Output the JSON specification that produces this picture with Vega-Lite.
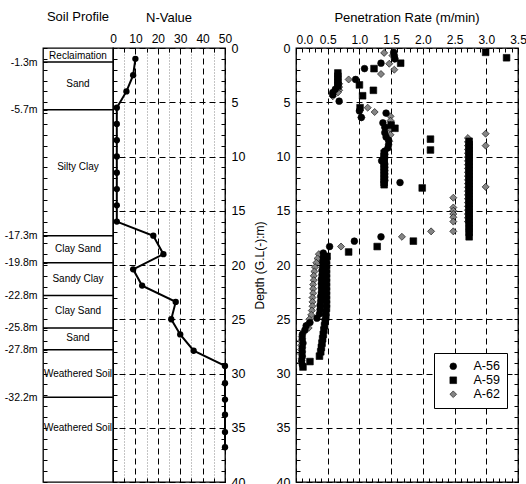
{
  "$schema": "https://vega.github.io/schema/vega-lite/v6.json",
  "padding": {"left": 3, "top": 9, "right": 0, "bottom": 0},
  "config": {
    "font": "Liberation Sans",
    "view": {"stroke": "black", "strokeWidth": 1.3},
    "axis": {"domain": false, "labelColor": "black", "titleColor": "black", "tickColor": "black", "titleFontWeight": "normal", "tickWidth": 1, "labelOverlap": false},
    "title": {"fontSize": 13, "fontWeight": "normal", "color": "black", "anchor": "middle", "frame": "group"}
  },
  "datasets": {
    "soil_bounds": [{"d": 1.3}, {"d": 5.7}, {"d": 17.3}, {"d": 19.8}, {"d": 22.8}, {"d": 25.8}, {"d": 27.8}, {"d": 32.2}],
    "soil_layers": [
      {"name": "Reclaimation", "m": 0.75}, {"name": "Sand", "m": 3.3}, {"name": "Silty Clay", "m": 11.0},
      {"name": "Clay Sand", "m": 18.5}, {"name": "Sandy Clay", "m": 21.3}, {"name": "Clay Sand", "m": 24.2},
      {"name": "Sand", "m": 26.7}, {"name": "Weathered Soil", "m": 30.0}, {"name": "Weathered Soil", "m": 35.0}
    ],
    "nvalue": [
      {"n": 10, "d": 1.0}, {"n": 9, "d": 2.5}, {"n": 6, "d": 4.0}, {"n": 1.7, "d": 5.5}, {"n": 1.7, "d": 7.0},
      {"n": 1.7, "d": 8.5}, {"n": 1.7, "d": 10.0}, {"n": 1.7, "d": 11.5}, {"n": 1.7, "d": 13.0}, {"n": 1.7, "d": 14.5},
      {"n": 1.7, "d": 16.0}, {"n": 18, "d": 17.3}, {"n": 22.5, "d": 19.0}, {"n": 9, "d": 20.4}, {"n": 13, "d": 21.9},
      {"n": 28, "d": 23.4}, {"n": 26, "d": 25.0}, {"n": 30, "d": 26.4}, {"n": 36, "d": 27.9}, {"n": 50, "d": 29.3},
      {"n": 50, "d": 30.9}, {"n": 50, "d": 32.4}, {"n": 50, "d": 33.8}, {"n": 50, "d": 35.4}, {"n": 50, "d": 36.8}
    ],
    "pen": [
      {"s": "A-56", "d": 0.4, "r": 1.54}, {"s": "A-56", "d": 0.7, "r": 1.55}, {"s": "A-56", "d": 1.0, "r": 1.56},
      {"s": "A-56", "d": 1.4, "r": 1.34}, {"s": "A-56", "d": 1.9, "r": 1.08}, {"s": "A-56", "d": 2.9, "r": 0.94},
      {"s": "A-56", "d": 3.8, "r": 0.62}, {"s": "A-56", "d": 4.1, "r": 0.58}, {"s": "A-56", "d": 4.3, "r": 0.58},
      {"s": "A-56", "d": 4.9, "r": 0.68}, {"s": "A-56", "d": 5.8, "r": 1.0}, {"s": "A-56", "d": 6.0, "r": 1.42},
      {"s": "A-56", "d": 6.4, "r": 1.03}, {"s": "A-56", "d": 6.9, "r": 1.37}, {"s": "A-56", "d": 7.3, "r": 1.4},
      {"s": "A-56", "d": 7.8, "r": 1.4}, {"s": "A-56", "d": 8.2, "r": 1.42}, {"s": "A-56", "d": 8.5, "r": 1.46},
      {"s": "A-56", "d": 8.9, "r": 1.46}, {"s": "A-56", "d": 9.2, "r": 1.45}, {"s": "A-56", "d": 9.5, "r": 1.4},
      {"s": "A-56", "d": 9.8, "r": 1.4}, {"s": "A-56", "d": 10.1, "r": 1.4}, {"s": "A-56", "d": 10.4, "r": 1.35},
      {"s": "A-56", "d": 10.7, "r": 1.4}, {"s": "A-56", "d": 11.0, "r": 1.4}, {"s": "A-56", "d": 11.3, "r": 1.4},
      {"s": "A-56", "d": 11.6, "r": 1.4}, {"s": "A-56", "d": 11.9, "r": 1.4}, {"s": "A-56", "d": 12.2, "r": 1.4},
      {"s": "A-56", "d": 12.4, "r": 1.64}, {"s": "A-56", "d": 17.4, "r": 1.34}, {"s": "A-56", "d": 17.8, "r": 0.92},
      {"s": "A-56", "d": 18.3, "r": 0.53}, {"s": "A-56", "d": 18.9, "r": 0.43}, {"s": "A-56", "d": 19.3, "r": 0.43},
      {"s": "A-56", "d": 19.7, "r": 0.42}, {"s": "A-56", "d": 20.1, "r": 0.42}, {"s": "A-56", "d": 20.5, "r": 0.41},
      {"s": "A-56", "d": 20.9, "r": 0.41}, {"s": "A-56", "d": 21.3, "r": 0.4}, {"s": "A-56", "d": 21.7, "r": 0.4},
      {"s": "A-56", "d": 22.1, "r": 0.4}, {"s": "A-56", "d": 22.5, "r": 0.4}, {"s": "A-56", "d": 22.9, "r": 0.39},
      {"s": "A-56", "d": 23.3, "r": 0.39}, {"s": "A-56", "d": 23.7, "r": 0.38}, {"s": "A-56", "d": 24.1, "r": 0.38},
      {"s": "A-56", "d": 24.5, "r": 0.37}, {"s": "A-56", "d": 24.9, "r": 0.33}, {"s": "A-56", "d": 25.3, "r": 0.22},
      {"s": "A-56", "d": 25.6, "r": 0.16}, {"s": "A-56", "d": 26.0, "r": 0.14}, {"s": "A-56", "d": 26.4, "r": 0.1},
      {"s": "A-56", "d": 26.8, "r": 0.1}, {"s": "A-56", "d": 27.2, "r": 0.11}, {"s": "A-56", "d": 27.6, "r": 0.1},
      {"s": "A-56", "d": 28.0, "r": 0.1}, {"s": "A-56", "d": 28.4, "r": 0.1}, {"s": "A-56", "d": 28.8, "r": 0.09},
      {"s": "A-56", "d": 29.2, "r": 0.1},
      {"s": "A-59", "d": 0.4, "r": 2.99}, {"s": "A-59", "d": 0.9, "r": 3.32}, {"s": "A-59", "d": 1.4, "r": 1.65},
      {"s": "A-59", "d": 1.9, "r": 1.23}, {"s": "A-59", "d": 2.3, "r": 0.66}, {"s": "A-59", "d": 2.6, "r": 0.66},
      {"s": "A-59", "d": 2.9, "r": 0.66}, {"s": "A-59", "d": 3.2, "r": 0.66}, {"s": "A-59", "d": 3.4, "r": 1.0},
      {"s": "A-59", "d": 3.5, "r": 0.66}, {"s": "A-59", "d": 3.9, "r": 1.22}, {"s": "A-59", "d": 4.4, "r": 1.05},
      {"s": "A-59", "d": 5.5, "r": 1.01}, {"s": "A-59", "d": 7.1, "r": 1.5}, {"s": "A-59", "d": 7.4, "r": 1.56},
      {"s": "A-59", "d": 8.4, "r": 2.12}, {"s": "A-59", "d": 9.4, "r": 2.12},
      {"s": "A-59", "d": 9.7, "r": 1.39}, {"s": "A-59", "d": 10.0, "r": 1.39}, {"s": "A-59", "d": 10.3, "r": 1.39},
      {"s": "A-59", "d": 10.6, "r": 1.39}, {"s": "A-59", "d": 10.9, "r": 1.39}, {"s": "A-59", "d": 11.2, "r": 1.39},
      {"s": "A-59", "d": 11.5, "r": 1.39}, {"s": "A-59", "d": 11.8, "r": 1.39}, {"s": "A-59", "d": 12.1, "r": 1.39},
      {"s": "A-59", "d": 12.4, "r": 1.39}, {"s": "A-59", "d": 12.6, "r": 1.39}, {"s": "A-59", "d": 12.9, "r": 1.99},
      {"s": "A-59", "d": 8.6, "r": 2.73}, {"s": "A-59", "d": 8.9, "r": 2.73}, {"s": "A-59", "d": 9.2, "r": 2.73},
      {"s": "A-59", "d": 9.5, "r": 2.73}, {"s": "A-59", "d": 9.8, "r": 2.73}, {"s": "A-59", "d": 10.1, "r": 2.73},
      {"s": "A-59", "d": 10.4, "r": 2.73}, {"s": "A-59", "d": 10.7, "r": 2.73}, {"s": "A-59", "d": 11.0, "r": 2.73},
      {"s": "A-59", "d": 11.3, "r": 2.73}, {"s": "A-59", "d": 11.6, "r": 2.73}, {"s": "A-59", "d": 11.9, "r": 2.73},
      {"s": "A-59", "d": 12.2, "r": 2.73}, {"s": "A-59", "d": 12.5, "r": 2.73}, {"s": "A-59", "d": 12.8, "r": 2.73},
      {"s": "A-59", "d": 13.1, "r": 2.73}, {"s": "A-59", "d": 13.4, "r": 2.73}, {"s": "A-59", "d": 13.7, "r": 2.73},
      {"s": "A-59", "d": 14.0, "r": 2.73}, {"s": "A-59", "d": 14.3, "r": 2.73}, {"s": "A-59", "d": 14.6, "r": 2.73},
      {"s": "A-59", "d": 14.9, "r": 2.73}, {"s": "A-59", "d": 15.2, "r": 2.73}, {"s": "A-59", "d": 15.5, "r": 2.73},
      {"s": "A-59", "d": 15.8, "r": 2.73}, {"s": "A-59", "d": 16.1, "r": 2.73}, {"s": "A-59", "d": 16.4, "r": 2.73},
      {"s": "A-59", "d": 16.7, "r": 2.73}, {"s": "A-59", "d": 17.0, "r": 2.73}, {"s": "A-59", "d": 17.4, "r": 2.73},
      {"s": "A-59", "d": 17.8, "r": 1.85}, {"s": "A-59", "d": 18.3, "r": 1.28}, {"s": "A-59", "d": 18.8, "r": 0.83},
      {"s": "A-59", "d": 19.2, "r": 0.49}, {"s": "A-59", "d": 19.6, "r": 0.48}, {"s": "A-59", "d": 20.0, "r": 0.48},
      {"s": "A-59", "d": 20.4, "r": 0.48}, {"s": "A-59", "d": 20.8, "r": 0.48}, {"s": "A-59", "d": 21.2, "r": 0.48},
      {"s": "A-59", "d": 21.6, "r": 0.48}, {"s": "A-59", "d": 22.0, "r": 0.48}, {"s": "A-59", "d": 22.4, "r": 0.48},
      {"s": "A-59", "d": 22.8, "r": 0.48}, {"s": "A-59", "d": 23.2, "r": 0.48}, {"s": "A-59", "d": 23.6, "r": 0.48},
      {"s": "A-59", "d": 24.0, "r": 0.48}, {"s": "A-59", "d": 24.4, "r": 0.47}, {"s": "A-59", "d": 24.8, "r": 0.47},
      {"s": "A-59", "d": 25.2, "r": 0.46}, {"s": "A-59", "d": 25.6, "r": 0.45}, {"s": "A-59", "d": 26.0, "r": 0.44},
      {"s": "A-59", "d": 26.4, "r": 0.43}, {"s": "A-59", "d": 26.8, "r": 0.42}, {"s": "A-59", "d": 27.2, "r": 0.41},
      {"s": "A-59", "d": 27.6, "r": 0.4}, {"s": "A-59", "d": 28.0, "r": 0.39}, {"s": "A-59", "d": 28.4, "r": 0.37},
      {"s": "A-59", "d": 28.9, "r": 0.22}, {"s": "A-59", "d": 29.4, "r": 0.11},
      {"s": "A-62", "d": 0.45, "r": 1.39}, {"s": "A-62", "d": 0.7, "r": 1.52}, {"s": "A-62", "d": 1.0, "r": 1.55},
      {"s": "A-62", "d": 1.45, "r": 1.47}, {"s": "A-62", "d": 2.0, "r": 1.55}, {"s": "A-62", "d": 2.4, "r": 1.34},
      {"s": "A-62", "d": 2.9, "r": 0.83}, {"s": "A-62", "d": 3.3, "r": 0.68}, {"s": "A-62", "d": 3.6, "r": 0.68},
      {"s": "A-62", "d": 3.9, "r": 0.68}, {"s": "A-62", "d": 4.1, "r": 0.66}, {"s": "A-62", "d": 4.45, "r": 0.58},
      {"s": "A-62", "d": 5.5, "r": 1.13}, {"s": "A-62", "d": 5.9, "r": 1.24}, {"s": "A-62", "d": 6.4, "r": 1.03},
      {"s": "A-62", "d": 6.3, "r": 1.49}, {"s": "A-62", "d": 6.7, "r": 1.49}, {"s": "A-62", "d": 7.1, "r": 1.49},
      {"s": "A-62", "d": 7.5, "r": 1.49}, {"s": "A-62", "d": 8.0, "r": 1.49}, {"s": "A-62", "d": 8.6, "r": 1.47},
      {"s": "A-62", "d": 7.9, "r": 2.99}, {"s": "A-62", "d": 9.0, "r": 2.99}, {"s": "A-62", "d": 12.8, "r": 2.99},
      {"s": "A-62", "d": 8.3, "r": 2.71}, {"s": "A-62", "d": 8.65, "r": 2.71}, {"s": "A-62", "d": 9.0, "r": 2.71},
      {"s": "A-62", "d": 9.35, "r": 2.71}, {"s": "A-62", "d": 9.7, "r": 2.71}, {"s": "A-62", "d": 10.05, "r": 2.71},
      {"s": "A-62", "d": 10.4, "r": 2.71}, {"s": "A-62", "d": 10.75, "r": 2.71}, {"s": "A-62", "d": 11.1, "r": 2.71},
      {"s": "A-62", "d": 11.45, "r": 2.71}, {"s": "A-62", "d": 11.8, "r": 2.71}, {"s": "A-62", "d": 12.15, "r": 2.71},
      {"s": "A-62", "d": 12.5, "r": 2.71}, {"s": "A-62", "d": 12.85, "r": 2.71}, {"s": "A-62", "d": 13.2, "r": 2.71},
      {"s": "A-62", "d": 13.55, "r": 2.71}, {"s": "A-62", "d": 13.9, "r": 2.71}, {"s": "A-62", "d": 14.25, "r": 2.71},
      {"s": "A-62", "d": 14.6, "r": 2.71}, {"s": "A-62", "d": 14.95, "r": 2.71}, {"s": "A-62", "d": 15.3, "r": 2.71},
      {"s": "A-62", "d": 15.65, "r": 2.71}, {"s": "A-62", "d": 16.0, "r": 2.71},
      {"s": "A-62", "d": 13.8, "r": 2.48}, {"s": "A-62", "d": 14.7, "r": 2.48}, {"s": "A-62", "d": 15.0, "r": 2.48},
      {"s": "A-62", "d": 15.3, "r": 2.48}, {"s": "A-62", "d": 15.6, "r": 2.48}, {"s": "A-62", "d": 16.0, "r": 2.48},
      {"s": "A-62", "d": 16.9, "r": 2.48}, {"s": "A-62", "d": 16.9, "r": 2.13}, {"s": "A-62", "d": 17.4, "r": 1.67},
      {"s": "A-62", "d": 18.3, "r": 0.71}, {"s": "A-62", "d": 19.0, "r": 0.36}, {"s": "A-62", "d": 19.4, "r": 0.34},
      {"s": "A-62", "d": 19.8, "r": 0.32}, {"s": "A-62", "d": 20.2, "r": 0.3}, {"s": "A-62", "d": 20.6, "r": 0.29},
      {"s": "A-62", "d": 21.0, "r": 0.28}, {"s": "A-62", "d": 21.4, "r": 0.28}, {"s": "A-62", "d": 21.8, "r": 0.27},
      {"s": "A-62", "d": 22.2, "r": 0.27}, {"s": "A-62", "d": 22.6, "r": 0.27}, {"s": "A-62", "d": 23.0, "r": 0.26},
      {"s": "A-62", "d": 23.4, "r": 0.26}, {"s": "A-62", "d": 23.8, "r": 0.26}, {"s": "A-62", "d": 24.2, "r": 0.25},
      {"s": "A-62", "d": 24.6, "r": 0.24}, {"s": "A-62", "d": 25.0, "r": 0.21}, {"s": "A-62", "d": 25.4, "r": 0.19},
      {"s": "A-62", "d": 25.8, "r": 0.2}, {"s": "A-62", "d": 26.2, "r": 0.12}, {"s": "A-62", "d": 26.6, "r": 0.09},
      {"s": "A-62", "d": 27.0, "r": 0.08}, {"s": "A-62", "d": 27.4, "r": 0.08}, {"s": "A-62", "d": 27.8, "r": 0.08},
      {"s": "A-62", "d": 28.2, "r": 0.08}, {"s": "A-62", "d": 28.6, "r": 0.09}, {"s": "A-62", "d": 29.0, "r": 0.08}
    ]
  },
  "spacing": 6,
  "hconcat": [
    {
      "bounds": "flush",
      "spacing": 0,
      "hconcat": [
        {
          "width": 70,
          "height": 434,
          "title": {"text": "Soil Profile", "offset": 19.5},
          "layer": [
            {
              "data": {"name": "soil_bounds"},
              "mark": {"type": "rule", "color": "black", "strokeWidth": 1.5},
              "encoding": {
                "y": {
                  "field": "d", "type": "quantitative",
                  "scale": {"domain": [0, 40], "reverse": true, "nice": false, "zero": false},
                  "axis": {
                    "orient": "left", "title": null, "grid": false, "labelOverlap": false, "labelFlush": false,
                    "values": [0, 1, 1.3, 2, 3, 4, 5, 5.7, 6, 7, 8, 9, 10, 11, 12, 13, 14, 15, 16, 17, 17.3, 18, 19, 19.8, 20, 21, 22, 22.8, 23, 24, 25, 25.8, 26, 27, 27.8, 28, 29, 30, 31, 32, 32.2, 33, 34, 35, 36, 37, 38, 39, 40],
                    "labelExpr": "datum.value % 1 != 0 ? '-' + datum.value + 'm' : ''",
                    "labelFontSize": 10.5, "labelPadding": 10, "tickSize": -4
                  }
                }
              }
            },
            {
              "data": {"name": "soil_layers"},
              "mark": {"type": "text", "fontSize": 10, "color": "black"},
              "encoding": {
                "y": {
                  "field": "m", "type": "quantitative",
                  "axis": {
                    "orient": "left", "title": null, "grid": false, "labelOverlap": false, "labelFlush": false,
                    "values": [0, 1, 1.3, 2, 3, 4, 5, 5.7, 6, 7, 8, 9, 10, 11, 12, 13, 14, 15, 16, 17, 17.3, 18, 19, 19.8, 20, 21, 22, 22.8, 23, 24, 25, 25.8, 26, 27, 27.8, 28, 29, 30, 31, 32, 32.2, 33, 34, 35, 36, 37, 38, 39, 40],
                    "labelExpr": "datum.value % 1 != 0 ? '-' + datum.value + 'm' : ''",
                    "labelFontSize": 10.5, "labelPadding": 10, "tickSize": -4
                  }
                },
                "text": {"field": "name", "type": "nominal"}
              }
            }
          ]
        },
        {
          "width": 112,
          "height": 434,
          "title": {"text": "N-Value", "offset": 7.5},
          "data": {"name": "nvalue"},
          "layer": [
            {
              "mark": {"type": "line", "color": "black", "strokeWidth": 2},
              "encoding": {
                "x": {
                  "field": "n", "type": "quantitative",
                  "scale": {"domain": [0, 50], "nice": false, "zero": false},
                  "axis": {
                    "orient": "top", "title": null, "values": [0, 5, 10, 15, 20, 25, 30, 35, 40, 45, 50],
                    "labelExpr": "datum.value % 10 == 0 ? datum.label : ''", "labelOverlap": false, "labelFlush": false,
                    "labelFontSize": 12, "labelPadding": 7, "tickSize": -4,
                    "grid": true,
                    "gridColor": {"condition": {"test": "datum.value % 10 == 0", "value": "black"}, "value": "#888888"},
                    "gridDash": {"condition": {"test": "datum.value % 10 == 0", "value": [6, 4]}, "value": [1, 2]},
                    "gridWidth": 1
                  }
                },
                "y": {
                  "field": "d", "type": "quantitative",
                  "scale": {"domain": [0, 40], "reverse": true, "nice": false, "zero": false},
                  "axis": {
                    "orient": "right", "title": null, "labelOverlap": false, "labelFlush": false,
                    "values": [0, 1, 2, 3, 4, 5, 6, 7, 8, 9, 10, 11, 12, 13, 14, 15, 16, 17, 18, 19, 20, 21, 22, 23, 24, 25, 26, 27, 28, 29, 30, 31, 32, 33, 34, 35, 36, 37, 38, 39, 40],
                    "labelExpr": "datum.value % 5 == 0 ? datum.label : ''",
                    "labelFontSize": 12.5, "labelPadding": 10, "tickSize": -4,
                    "grid": true, "gridColor": "black", "gridDash": [6, 4],
                    "gridOpacity": {"condition": {"test": "datum.value % 5 == 0", "value": 1}, "value": 0}
                  }
                },
                "order": {"field": "d", "type": "quantitative"}
              }
            },
            {
              "mark": {"type": "point", "filled": true, "color": "black", "size": 40, "opacity": 1},
              "encoding": {
                "x": {
                  "field": "n", "type": "quantitative",
                  "axis": {"orient": "bottom", "title": null, "values": [0, 5, 10, 15, 20, 25, 30, 35, 40, 45, 50], "labels": false, "grid": false, "tickSize": -4}
                },
                "y": {
                  "field": "d", "type": "quantitative",
                  "axis": {"orient": "left", "title": null, "values": [0, 1, 2, 3, 4, 5, 6, 7, 8, 9, 10, 11, 12, 13, 14, 15, 16, 17, 18, 19, 20, 21, 22, 23, 24, 25, 26, 27, 28, 29, 30, 31, 32, 33, 34, 35, 36, 37, 38, 39, 40], "labels": false, "grid": false, "tickSize": -4}
                }
              }
            }
          ]
        }
      ]
    },
    {
      "width": 222,
      "height": 434,
      "title": {"text": "Penetration Rate (m/min)", "offset": 8.5},
      "data": {"name": "pen"},
      "layer": [
        {
          "transform": [{"filter": "datum.s == 'A-62'"}],
          "mark": {"type": "point", "filled": true, "size": 50, "opacity": 1, "stroke": "black", "strokeWidth": 0.6},
          "encoding": {
            "x": {
              "field": "r", "type": "quantitative",
              "scale": {"domain": [0, 3.5], "nice": false, "zero": false},
              "axis": {
                "orient": "bottom", "title": null, "labels": false, "grid": false, "tickSize": -4,
                "values": [0, 0.1, 0.2, 0.3, 0.4, 0.5, 0.6, 0.7, 0.8, 0.9, 1, 1.1, 1.2, 1.3, 1.4, 1.5, 1.6, 1.7, 1.8, 1.9, 2, 2.1, 2.2, 2.3, 2.4, 2.5, 2.6, 2.7, 2.8, 2.9, 3, 3.1, 3.2, 3.3, 3.4, 3.5]
              }
            },
            "y": {
              "field": "d", "type": "quantitative",
              "scale": {"domain": [0, 40], "reverse": true, "nice": false, "zero": false},
              "axis": {
                "orient": "right", "title": null, "labels": false, "grid": false, "tickSize": -4,
                "values": [0, 1, 2, 3, 4, 5, 6, 7, 8, 9, 10, 11, 12, 13, 14, 15, 16, 17, 18, 19, 20, 21, 22, 23, 24, 25, 26, 27, 28, 29, 30, 31, 32, 33, 34, 35, 36, 37, 38, 39, 40]
              }
            },
            "shape": {
              "field": "s", "type": "nominal",
              "scale": {"domain": ["A-56", "A-59", "A-62"], "range": ["circle", "square", "diamond"]},
              "legend": {"title": null, "orient": "none", "legendX": 391, "legendY": 305, "strokeColor": "black", "fillColor": "white", "padding": 7, "symbolOffset": 6, "labelOffset": 14, "labelFontSize": 12.5, "rowPadding": 1, "symbolSize": 45, "symbolStrokeColor": "black", "symbolStrokeWidth": 0.6}
            },
            "color": {
              "field": "s", "type": "nominal",
              "scale": {"domain": ["A-56", "A-59", "A-62"], "range": ["black", "black", "#858585"]},
              "legend": {"title": null, "orient": "none", "legendX": 391, "legendY": 305, "strokeColor": "black", "fillColor": "white", "padding": 7, "symbolOffset": 6, "labelOffset": 14, "labelFontSize": 12.5, "rowPadding": 1, "symbolSize": 45, "symbolStrokeColor": "black", "symbolStrokeWidth": 0.6}
            }
          }
        },
        {
          "transform": [{"filter": "datum.s != 'A-62'"}],
          "mark": {"type": "point", "filled": true, "size": 45, "opacity": 1, "stroke": "black", "strokeWidth": 0.6},
          "encoding": {
            "x": {
              "field": "r", "type": "quantitative",
              "axis": {
                "orient": "top", "title": null, "format": ".1f", "labelOverlap": false, "labelFlush": false,
                "values": [0, 0.1, 0.2, 0.3, 0.4, 0.5, 0.6, 0.7, 0.8, 0.9, 1, 1.1, 1.2, 1.3, 1.4, 1.5, 1.6, 1.7, 1.8, 1.9, 2, 2.1, 2.2, 2.3, 2.4, 2.5, 2.6, 2.7, 2.8, 2.9, 3, 3.1, 3.2, 3.3, 3.4, 3.5],
                "labelExpr": "abs(datum.value * 2 - round(datum.value * 2)) < 0.001 ? datum.label : ''",
                "labelAlign": {"condition": {"test": "datum.value == 0", "value": "left"}, "value": "center"},
                "labelFontSize": 12, "labelPadding": 6, "tickSize": -4,
                "grid": true, "gridColor": "black", "gridDash": [6, 4],
                "gridOpacity": {"condition": {"test": "abs(datum.value * 2 - round(datum.value * 2)) < 0.001", "value": 1}, "value": 0}
              }
            },
            "y": {
              "field": "d", "type": "quantitative",
              "axis": {
                "orient": "left", "title": "Depth (G.L(-):m)", "titleFontSize": 12, "titlePadding": 10, "labelOverlap": false, "labelFlush": false,
                "values": [0, 1, 2, 3, 4, 5, 6, 7, 8, 9, 10, 11, 12, 13, 14, 15, 16, 17, 18, 19, 20, 21, 22, 23, 24, 25, 26, 27, 28, 29, 30, 31, 32, 33, 34, 35, 36, 37, 38, 39, 40],
                "labelExpr": "datum.value % 5 == 0 ? datum.label : ''",
                "labelFontSize": 12.5, "labelPadding": 10, "tickSize": -4,
                "grid": true, "gridColor": "black", "gridDash": [6, 4],
                "gridOpacity": {"condition": {"test": "datum.value % 5 == 0", "value": 1}, "value": 0}
              }
            },
            "shape": {"field": "s", "type": "nominal", "scale": {"domain": ["A-56", "A-59", "A-62"], "range": ["circle", "square", "diamond"]}},
            "color": {"field": "s", "type": "nominal", "scale": {"domain": ["A-56", "A-59", "A-62"], "range": ["black", "black", "#858585"]}}
          }
        }
      ]
    }
  ]
}
